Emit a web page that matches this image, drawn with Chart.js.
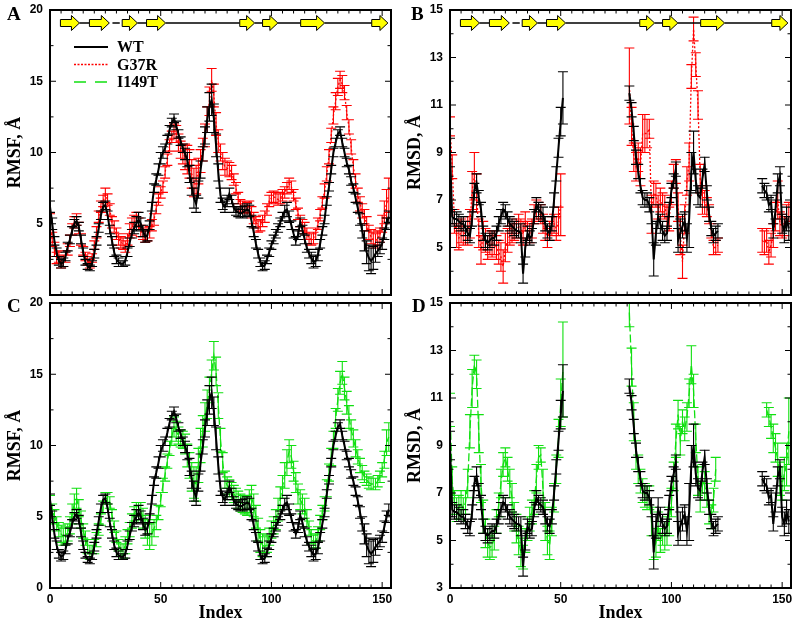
<!DOCTYPE html>
<html>
<head>
<meta charset="utf-8">
<script src="https://cdn.jsdelivr.net/npm/chart.js@4.4.1/dist/chart.umd.min.js"></script>
<style>
  body { margin: 0; background: #fff; }
  #page { position: relative; width: 800px; height: 625px; overflow: hidden; background: #fff; }
  canvas { position: absolute; }
  .tag { position: absolute; font: bold 19px "Liberation Serif", "Times New Roman", serif; line-height: 24px; color: #000; }
</style>
</head>
<body>
<div id="page">
  <canvas id="panelA" width="400" height="300" style="left:0;top:0"></canvas>
  <canvas id="panelB" width="400" height="300" style="left:400px;top:0"></canvas>
  <canvas id="panelC" width="400" height="335" style="left:0;top:290px"></canvas>
  <canvas id="panelD" width="400" height="335" style="left:400px;top:290px"></canvas>
  <div class="tag" style="left:7px;top:2px">A</div>
  <div class="tag" style="left:411px;top:2px">B</div>
  <div class="tag" style="left:7px;top:294px">C</div>
  <div class="tag" style="left:412px;top:294px">D</div>
</div>
<script>
// residue index 0..153
const residueIndex = Array.from({ length: 154 }, (_, i) => i);

const seriesLabels = ["WT", "G37R", "I149T"];
const seriesColors = ["#000000", "#ff0000", "#10e010"];

// secondary structure (beta strands) and the loop line drawn between them
const strands = [[4.7, 13.3], [17.8, 26.8], [32.6, 39.5], [43.6, 52.2], [85.7, 92.4], [96.0, 102.9], [113.2, 124.0], [145.3, 152.6]];
const loops = [[13.3, 17.8], [28.2, 31.5], [39.5, 43.6], [52.2, 85.7], [92.4, 96.0], [102.9, 113.2], [124.0, 145.3]];

const xTicks = [0, 50, 100, 150];
const rmsfTicks = [0, 5, 10, 15, 20];
const rmsdTicks = [3, 5, 7, 9, 11, 13, 15];

// ---- RMSF (panels A, C) ----
const wtRmsf = [
  6.2, 5.0, 3.8, 3.0, 2.4, 2.2, 2.3, 2.7, 3.4, 3.9,
  4.5, 5.0, 5.2, 4.8, 3.9, 3.0, 2.3, 2.0, 1.9, 2.2,
  2.9, 3.8, 4.7, 5.6, 6.2, 6.3, 5.6, 4.6, 3.8, 3.0,
  2.5, 2.3, 2.2, 2.2, 2.4, 3.0, 3.7, 4.3, 4.7, 5.0,
  5.3, 5.0, 4.5, 4.1, 4.2, 4.9, 6.2, 7.5, 8.1, 8.8,
  9.6, 10.0, 10.3, 10.9, 11.6, 12.1, 12.4, 11.9, 11.3, 10.8,
  10.3, 9.9, 9.5, 8.5, 7.6, 6.8, 6.4, 7.4, 8.8, 9.9,
  11.2, 12.3, 13.2, 13.7, 12.4, 10.5, 8.6, 7.0, 6.4, 6.2,
  6.6, 7.1, 6.7, 6.1, 5.9, 5.8, 5.7, 5.8, 5.9, 6.0,
  5.9, 5.2, 4.4, 3.6, 2.9, 2.3, 2.0, 2.1, 2.5, 3.0,
  3.5, 3.9, 4.3, 4.7, 5.1, 5.5, 5.9, 6.0, 5.5, 4.9,
  4.3, 3.8, 4.2, 5.1, 4.6, 3.9, 3.3, 2.9, 2.6, 2.3,
  2.4, 2.8, 3.6, 4.5, 5.3, 6.6, 7.6, 8.8, 10.0, 10.7,
  11.3, 11.5, 10.7, 10.0, 9.3, 8.8, 8.0, 7.5, 6.8, 6.1,
  5.3, 4.5, 3.8, 3.0, 2.6, 2.4, 2.6, 2.9, 3.1, 3.3,
  3.6, 4.3, 5.0, 5.5
];
const wtRmsfErr = [
  0.4, 0.4, 0.3, 0.3, 0.3, 0.3, 0.3, 0.3, 0.3, 0.3,
  0.3, 0.3, 0.3, 0.3, 0.3, 0.3, 0.2, 0.2, 0.2, 0.2,
  0.3, 0.3, 0.3, 0.3, 0.3, 0.3, 0.3, 0.3, 0.3, 0.3,
  0.3, 0.3, 0.2, 0.2, 0.3, 0.3, 0.3, 0.3, 0.4, 0.5,
  0.5, 0.4, 0.4, 0.4, 0.4, 0.3, 0.3, 0.3, 0.4, 0.4,
  0.4, 0.4, 0.3, 0.3, 0.3, 0.3, 0.3, 0.3, 0.3, 0.3,
  0.3, 0.4, 0.5, 0.6, 0.6, 0.7, 0.6, 0.6, 0.6, 0.5,
  0.6, 0.9, 1.0, 1.1, 1.0, 0.8, 0.6, 0.5, 0.4, 0.4,
  0.4, 0.4, 0.3, 0.3, 0.3, 0.3, 0.3, 0.4, 0.4, 0.4,
  0.4, 0.4, 0.3, 0.3, 0.3, 0.3, 0.3, 0.3, 0.3, 0.3,
  0.3, 0.3, 0.3, 0.3, 0.3, 0.3, 0.4, 0.5, 0.4, 0.3,
  0.3, 0.3, 0.3, 0.3, 0.3, 0.3, 0.3, 0.3, 0.4, 0.4,
  0.4, 0.4, 0.3, 0.3, 0.3, 0.3, 0.3, 0.3, 0.3, 0.3,
  0.3, 0.3, 0.3, 0.3, 0.3, 0.3, 0.3, 0.3, 0.3, 0.3,
  0.4, 0.5, 0.7, 0.8, 0.9, 0.9, 0.8, 0.6, 0.4, 0.4,
  0.4, 0.4, 0.4, 0.4
];
const g37rRmsf = [
  4.9, 3.9, 3.2, 2.6, 2.7, 2.3, 2.4, 2.7, 3.2, 3.8,
  4.6, 5.1, 5.3, 4.7, 3.9, 3.1, 2.7, 2.4, 2.2, 2.6,
  3.5, 4.4, 5.5, 6.2, 6.6, 7.0, 6.7, 6.0, 5.1, 4.8,
  4.3, 3.9, 3.7, 3.6, 3.4, 3.9, 4.5, 4.8, 5.1, 5.3,
  5.0, 4.5, 4.3, 4.1, 4.2, 4.4, 4.9, 5.3, 6.1, 6.7,
  7.2, 7.6, 8.6, 9.5, 10.5, 11.1, 11.5, 11.3, 10.7, 10.2,
  9.9, 9.7, 9.5, 9.2, 8.5, 7.9, 8.1, 8.7, 9.4, 10.2,
  11.2, 12.3, 13.6, 15.1, 14.0, 12.0, 10.8, 10.0, 9.4, 9.0,
  8.9, 8.8, 8.6, 8.1, 7.5, 6.8, 6.3, 6.2, 6.2, 6.1,
  6.2, 5.8, 5.4, 5.1, 4.8, 4.9, 5.2, 5.5, 6.0, 6.6,
  6.8, 6.9, 6.8, 6.7, 6.8, 7.0, 7.2, 7.5, 7.8, 7.6,
  7.0, 6.4, 5.7, 5.2, 4.9, 4.7, 4.3, 4.0, 3.9, 4.0,
  4.3, 5.0, 5.6, 6.5, 7.3, 8.5, 9.7, 11.2, 12.6, 13.6,
  14.6, 15.1, 14.8, 14.2, 12.8, 11.8, 10.4, 9.0, 8.0, 7.0,
  6.4, 5.9, 5.5, 5.0, 4.4, 4.1, 3.9, 3.8, 4.0, 4.2,
  5.0, 5.8, 6.4, 7.0
];
const g37rRmsfErr = [
  0.8, 0.5, 0.5, 0.4, 0.4, 0.4, 0.4, 0.4, 0.4, 0.4,
  0.4, 0.4, 0.4, 0.4, 0.4, 0.3, 0.3, 0.3, 0.3, 0.3,
  0.3, 0.4, 0.4, 0.4, 0.4, 0.5, 0.4, 0.4, 0.4, 0.4,
  0.4, 0.4, 0.4, 0.4, 0.4, 0.4, 0.5, 0.6, 0.5, 0.5,
  0.4, 0.4, 0.4, 0.4, 0.4, 0.4, 0.4, 0.4, 0.4, 0.4,
  0.4, 0.4, 0.4, 0.4, 0.4, 0.4, 0.5, 0.6, 0.6, 0.6,
  0.7, 0.9, 1.0, 1.0, 1.0, 1.0, 1.0, 0.9, 0.8, 0.8,
  0.8, 0.9, 1.0, 0.8, 0.8, 0.8, 0.8, 0.6, 0.6, 0.6,
  0.5, 0.5, 0.5, 0.4, 0.4, 0.4, 0.4, 0.4, 0.4, 0.4,
  0.4, 0.4, 0.4, 0.4, 0.4, 0.4, 0.4, 0.4, 0.4, 0.4,
  0.4, 0.4, 0.4, 0.4, 0.4, 0.4, 0.4, 0.4, 0.4, 0.4,
  0.4, 0.4, 0.4, 0.4, 0.4, 0.4, 0.4, 0.4, 0.4, 0.4,
  0.4, 0.4, 0.4, 0.4, 0.5, 0.5, 0.5, 0.5, 0.6, 0.6,
  0.6, 0.6, 0.6, 0.5, 0.5, 0.5, 0.5, 0.5, 0.5, 0.5,
  0.5, 0.5, 0.5, 0.5, 0.5, 0.5, 0.5, 0.5, 0.5, 0.5,
  0.6, 0.8, 1.0, 1.2
];
const i149tRmsf = [
  6.0, 5.4, 5.0, 4.5, 4.1, 3.8, 3.6, 3.7, 3.9, 4.4,
  5.2, 5.9, 6.3, 5.6, 4.8, 4.0, 3.5, 2.9, 2.5, 2.5,
  2.9, 3.4, 4.1, 4.8, 5.7, 6.3, 6.3, 6.0, 5.1, 4.3,
  3.6, 3.0, 2.7, 2.6, 3.0, 3.6, 4.1, 4.7, 5.2, 5.5,
  5.5, 5.4, 4.9, 4.3, 3.9, 3.6, 3.8, 4.2, 4.6, 5.3,
  6.2, 7.2, 8.0, 8.9, 9.8, 10.6, 11.3, 11.0, 10.7, 10.5,
  10.4, 10.1, 9.3, 8.6, 7.8, 7.4, 7.3, 8.6, 10.0, 11.0,
  12.0, 12.9, 13.9, 15.1, 16.3, 15.2, 12.8, 10.4, 8.8, 7.6,
  7.2, 7.0, 6.8, 6.6, 6.4, 6.2, 6.0, 5.9, 5.8, 5.8,
  6.1, 6.4, 5.8, 5.0, 4.1, 3.3, 3.0, 2.9, 3.1, 3.6,
  4.1, 4.4, 4.8, 5.5, 6.3, 7.1, 7.9, 8.8, 9.6, 9.2,
  8.2, 7.4, 6.6, 6.2, 5.9, 5.6, 4.9, 4.2, 3.6, 3.2,
  3.3, 3.8, 4.6, 5.3, 5.9, 7.0, 8.1, 9.2, 10.4, 11.9,
  13.2, 14.4, 15.1, 14.0, 13.0, 12.0, 11.1, 10.5, 9.8, 9.2,
  8.6, 8.1, 7.8, 7.6, 7.4, 7.3, 7.3, 7.3, 7.5, 7.8,
  8.3, 9.0, 10.2, 10.6
];
const i149tRmsfErr = [
  0.5, 0.5, 0.5, 0.5, 0.5, 0.6, 0.6, 0.6, 0.6, 0.6,
  0.7, 0.7, 0.7, 0.6, 0.6, 0.5, 0.5, 0.5, 0.5, 0.5,
  0.5, 0.5, 0.4, 0.4, 0.4, 0.4, 0.4, 0.4, 0.4, 0.4,
  0.4, 0.4, 0.4, 0.5, 0.6, 0.5, 0.5, 0.5, 0.5, 0.5,
  0.5, 0.6, 0.7, 0.8, 0.9, 0.9, 0.8, 0.6, 0.5, 0.5,
  0.5, 0.5, 0.5, 0.5, 0.5, 0.6, 0.7, 0.7, 0.6, 0.6,
  0.6, 0.7, 0.8, 0.9, 1.0, 1.1, 1.2, 1.2, 1.2, 1.1,
  1.0, 1.0, 0.9, 0.9, 1.0, 1.0, 0.9, 0.8, 0.7, 0.6,
  0.6, 0.6, 0.6, 0.6, 0.6, 0.6, 0.6, 0.6, 0.6, 0.7,
  0.8, 0.8, 0.8, 0.8, 0.8, 0.8, 0.8, 0.7, 0.6, 0.6,
  0.6, 0.6, 0.7, 0.8, 0.8, 0.8, 0.9, 0.9, 0.8, 0.8,
  0.7, 0.7, 0.7, 0.7, 0.7, 0.7, 0.6, 0.5, 0.5, 0.5,
  0.5, 0.5, 0.5, 0.5, 0.5, 0.6, 0.6, 0.6, 0.6, 0.7,
  0.8, 0.8, 0.8, 0.8, 0.8, 0.8, 0.7, 0.6, 0.6, 0.5,
  0.5, 0.5, 0.4, 0.4, 0.4, 0.4, 0.4, 0.4, 0.4, 0.4,
  0.5, 0.6, 0.9, 1.0
];

// ---- RMSD (panels B, D); null = not computed ----
const wtRmsd = [
  9.0, 6.3, 6.2, 6.2, 6.1, 6.0, 6.0, 5.8, 5.6, 5.5,
  6.2, 7.4, 7.7, 7.1, 6.6, 5.6, 5.3, 5.2, 5.3, 5.4,
  5.4, 5.6, 6.0, 6.3, 6.6, 6.5, 6.2, 6.0, 5.9, 5.8,
  5.7, 5.7, 5.6, 3.9, 5.0, 5.6, 5.4, 5.5, 6.3, 6.8,
  6.6, 6.5, 6.4, 6.0, 5.7, 5.6, 6.0, 7.0, 8.1, 9.2,
  10.3, 11.3, null, null, null, null, null, null, null, null,
  null, null, null, null, null, null, null, null, null, null,
  null, null, null, null, null, null, null, null, null, null,
  null, 11.5, 10.8, 9.8, 8.8, 8.2, 7.6, 7.1, 7.0, 7.0,
  6.8, 6.4, 4.5, 5.6, 6.3, 6.0, 5.7, 5.5, 5.6, 6.6,
  7.4, 7.8, 8.3, 5.3, 5.6, 5.9, 6.1, 5.4, 6.2, 8.2,
  9.0, 7.8, 7.2, 7.1, 7.9, 8.5, 7.3, 6.4, 5.8, 5.5,
  5.6, 5.7, null, null, null, null, null, null, null, null,
  null, null, null, null, null, null, null, null, null, null,
  null, 7.6, 7.4, 7.3, 6.8, 6.9, 5.7, 6.6, 7.7, 8.0,
  6.0, 5.7, 6.2, 5.8
];
const wtRmsdErr = [
  0.6, 0.3, 0.3, 0.3, 0.3, 0.3, 0.3, 0.3, 0.3, 0.3,
  0.3, 0.3, 0.4, 0.3, 0.3, 0.3, 0.3, 0.3, 0.3, 0.3,
  0.3, 0.3, 0.3, 0.3, 0.3, 0.3, 0.3, 0.3, 0.3, 0.3,
  0.3, 0.3, 0.4, 0.4, 0.4, 0.3, 0.3, 0.3, 0.3, 0.3,
  0.3, 0.3, 0.3, 0.3, 0.3, 0.3, 0.3, 0.3, 0.3, 0.4,
  0.6, 1.1, null, null, null, null, null, null, null, null,
  null, null, null, null, null, null, null, null, null, null,
  null, null, null, null, null, null, null, null, null, null,
  null, 0.3, 0.3, 0.3, 0.3, 0.3, 0.3, 0.3, 0.3, 0.3,
  0.3, 0.4, 0.7, 0.5, 0.5, 0.4, 0.4, 0.3, 0.3, 0.3,
  0.3, 0.3, 0.3, 0.5, 0.6, 0.5, 0.4, 0.6, 1.2, 0.8,
  0.9, 0.5, 0.4, 0.4, 0.4, 0.3, 0.3, 0.3, 0.3, 0.3,
  0.3, 0.3, null, null, null, null, null, null, null, null,
  null, null, null, null, null, null, null, null, null, null,
  null, 0.3, 0.3, 0.3, 0.3, 0.3, 0.3, 0.4, 0.4, 0.4,
  0.4, 0.5, 0.5, 0.5
];
const g37rRmsd = [
  10.1, 8.4, 6.1, 5.5, 5.4, 5.7, 5.6, 5.6, 5.7, 6.0,
  7.4, 8.0, 7.3, 5.6, 4.9, 5.5, 5.3, 5.0, 5.2, 5.1,
  5.2, 5.0, 4.8, 4.6, 4.2, 5.0, 5.3, 5.5, 5.6, 5.7,
  5.8, 6.0, 5.8, 5.6, 6.1, 5.7, 5.6, 5.8, 6.4, 6.6,
  6.5, 6.4, 6.0, 5.7, 5.4, 5.7, 5.9, 6.0, 5.8, 6.1,
  6.8, null, null, null, null, null, null, null, null, null,
  null, null, null, null, null, null, null, null, null, null,
  null, null, null, null, null, null, null, null, null, null,
  null, 11.8, 10.1, 8.8, 8.4, 8.8, 8.4, 9.8, 9.8, 9.8,
  10.0, 6.4, 7.3, 7.2, 6.7, 7.0, 6.8, 6.7, 6.3, 6.2,
  7.3, 8.0, 8.2, 6.7, 5.5, 4.4, 6.2, 7.8, 8.6, 12.2,
  14.2, 12.7, 11.0, 7.9, 7.0, 6.9, 6.7, 6.4, 5.7, 5.0,
  5.0, 5.1, null, null, null, null, null, null, null, null,
  null, null, null, null, null, null, null, null, null, null,
  null, 5.3, 5.2, 5.3, 4.8, 5.1, 5.5, 6.3, 7.0, 6.0,
  5.9, 5.9, 6.4, 6.5
];
const g37rRmsdErr = [
  0.4, 0.5, 0.5, 0.5, 0.5, 0.5, 0.5, 0.5, 0.6, 0.6,
  0.8, 1.0, 0.8, 0.6, 0.6, 0.6, 0.5, 0.5, 0.5, 0.5,
  0.5, 0.5, 0.5, 0.6, 0.7, 0.6, 0.5, 0.4, 0.4, 0.4,
  0.4, 0.4, 0.4, 0.5, 0.4, 0.4, 0.4, 0.4, 0.4, 0.4,
  0.4, 0.4, 0.4, 0.4, 0.4, 0.4, 0.4, 0.4, 0.5, 0.6,
  1.3, null, null, null, null, null, null, null, null, null,
  null, null, null, null, null, null, null, null, null, null,
  null, null, null, null, null, null, null, null, null, null,
  null, 1.6, 0.8, 0.6, 0.6, 0.6, 0.8, 0.8, 0.8, 0.6,
  0.4, 0.8, 0.5, 0.5, 0.5, 0.5, 0.5, 0.5, 0.5, 0.5,
  0.5, 0.5, 0.5, 0.6, 0.8, 0.7, 0.6, 0.6, 0.8, 0.5,
  0.5, 0.5, 0.6, 0.6, 0.6, 0.5, 0.4, 0.4, 0.3, 0.3,
  0.3, 0.3, null, null, null, null, null, null, null, null,
  null, null, null, null, null, null, null, null, null, null,
  null, 0.5, 0.5, 0.5, 0.5, 0.5, 0.5, 0.6, 0.8, 0.5,
  0.5, 0.4, 0.4, 0.4
];
const i149tRmsd = [
  10.5, 7.5, 6.6, 6.3, 6.4, 6.6, 6.3, 6.6, 7.4, 9.6,
  11.4, 12.4, 12.0, 9.5, 7.4, 6.0, 5.3, 4.9, 4.7, 4.8,
  5.1, 5.8, 6.5, 7.4, 8.2, 8.5, 8.0, 7.4, 6.8, 6.0,
  5.5, 5.0, 4.5, 4.3, 5.0, 5.5, 5.9, 6.2, 6.6, 7.6,
  8.5, 8.6, 7.2, 5.8, 5.0, 4.8, 5.8, 6.8, 8.0, 9.3,
  10.8, 12.2, null, null, null, null, null, null, null, null,
  null, null, null, null, null, null, null, null, null, null,
  null, null, null, null, null, null, null, null, null, null,
  null, 14.6, 12.3, 10.0, 8.6, 8.0, 7.5, 7.1, 6.9, 6.8,
  6.8, 5.8, 4.7, 4.9, 5.6, 5.0, 5.3, 5.2, 5.4, 5.8,
  6.6, 7.7, 9.2, 10.3, 9.2, 10.0, 9.7, 10.2, 11.2, 12.4,
  11.3, 9.3, 7.5, 6.8, 7.6, 7.3, 6.9, 6.2, 6.0, 6.7,
  8.0, null, null, null, null, null, null, null, null, null,
  null, null, null, null, null, null, null, null, null, null,
  null, null, null, 10.5, 10.2, 9.8, 9.3, 8.9, 8.4, 7.6,
  7.4, 7.8, 8.2, 9.6
];
const i149tRmsdErr = [
  0.7, 0.6, 0.5, 0.5, 0.5, 0.5, 0.5, 0.5, 0.6, 0.7,
  0.8, 0.4, 0.6, 0.8, 0.8, 0.7, 0.6, 0.6, 0.5, 0.5,
  0.5, 0.5, 0.5, 0.6, 0.5, 0.4, 0.5, 0.6, 0.6, 0.6,
  0.6, 0.6, 0.6, 0.5, 0.5, 0.5, 0.5, 0.5, 0.5, 0.6,
  0.5, 0.3, 0.8, 0.8, 0.6, 0.6, 0.6, 0.6, 0.6, 0.8,
  1.0, 2.0, null, null, null, null, null, null, null, null,
  null, null, null, null, null, null, null, null, null, null,
  null, null, null, null, null, null, null, null, null, null,
  null, 0.6, 0.8, 0.8, 0.6, 0.6, 0.5, 0.5, 0.5, 0.5,
  0.5, 0.6, 0.5, 0.6, 0.6, 0.5, 0.5, 0.6, 0.6, 0.6,
  0.6, 0.6, 0.7, 0.6, 0.6, 0.5, 0.5, 0.6, 0.6, 0.8,
  0.7, 0.6, 0.6, 0.6, 0.6, 0.6, 0.5, 0.5, 0.5, 0.5,
  0.5, null, null, null, null, null, null, null, null, null,
  null, null, null, null, null, null, null, null, null, null,
  null, null, null, 0.3, 0.4, 0.5, 0.6, 0.6, 0.7, 0.7,
  0.7, 0.7, 0.9, 1.4
];

const tickFont = { family: '"Liberation Sans", Arial, sans-serif', size: 12, weight: "bold" };
const titleFont = { family: '"Liberation Serif", "Times New Roman", serif', size: 18, weight: "bold" };

// vertical error bars with caps, drawn right after each line
const errorBars = {
  id: "errorBars",
  afterDatasetDraw(chart, args) {
    const ds = chart.data.datasets[args.index];
    if (!ds.errors) return;
    const { ctx, chartArea: a, scales: { x, y } } = chart;
    ctx.save();
    ctx.beginPath();
    ctx.rect(a.left, a.top, a.width, a.height);
    ctx.clip();
    ctx.strokeStyle = ds.borderColor;
    ctx.lineWidth = 1.1;
    ctx.beginPath();
    ds.data.forEach((p, i) => {
      const e = ds.errors[i];
      if (p.y == null || e == null) return;
      const px = x.getPixelForValue(p.x);
      const lo = y.getPixelForValue(p.y - e);
      const hi = y.getPixelForValue(p.y + e);
      ctx.moveTo(px, lo); ctx.lineTo(px, hi);
      ctx.moveTo(px - 5, lo); ctx.lineTo(px + 5, lo);
      ctx.moveTo(px - 5, hi); ctx.lineTo(px + 5, hi);
    });
    ctx.stroke();
    ctx.restore();
  }
};

// strands row at the top of A and B
const strandRow = {
  id: "strandRow",
  afterDatasetsDraw(chart, args, opts) {
    if (!opts.show) return;
    const { ctx, chartArea: a, scales: { x } } = chart;
    const yc = a.top + 13;
    ctx.save();
    ctx.strokeStyle = "#000";
    ctx.lineWidth = 1.3;
    ctx.beginPath();
    loops.forEach(([s, e]) => {
      ctx.moveTo(x.getPixelForValue(s), yc);
      ctx.lineTo(x.getPixelForValue(e), yc);
    });
    ctx.stroke();
    ctx.lineWidth = 1;
    ctx.fillStyle = "#ffff00";
    strands.forEach(([s, e]) => {
      const x0 = x.getPixelForValue(s), x1 = x.getPixelForValue(e);
      const xh = x1 - 8;
      ctx.beginPath();
      ctx.moveTo(x0, yc - 3.5);
      ctx.lineTo(xh, yc - 3.5);
      ctx.lineTo(xh, yc - 7.5);
      ctx.lineTo(x1, yc);
      ctx.lineTo(xh, yc + 7.5);
      ctx.lineTo(xh, yc + 3.5);
      ctx.lineTo(x0, yc + 3.5);
      ctx.closePath();
      ctx.fill();
      ctx.stroke();
    });
    ctx.restore();
  }
};

// legend inside panel A
const legendBox = {
  id: "legendBox",
  afterDraw(chart, args, opts) {
    if (!opts.show) return;
    const { ctx, chartArea: a } = chart;
    const dashes = [[], [2, 1.5], [12, 9]];
    const widths = [2, 1.5, 1.5];
    seriesLabels.forEach((lab, k) => {
      const yy = a.top + 37 + k * 17.5;
      ctx.save();
      ctx.strokeStyle = seriesColors[k];
      ctx.lineWidth = widths[k];
      ctx.setLineDash(dashes[k]);
      ctx.beginPath();
      ctx.moveTo(a.left + 24, yy);
      ctx.lineTo(a.left + 58, yy);
      ctx.stroke();
      ctx.setLineDash([]);
      ctx.fillStyle = "#000";
      ctx.font = 'bold 16px "Liberation Serif", "Times New Roman", serif';
      ctx.textBaseline = "middle";
      ctx.fillText(lab, a.left + 67, yy + 1);
      ctx.restore();
    });
  }
};

// box and inward tick marks on all four sides
const frame = {
  id: "frame",
  afterDraw(chart, args, opts) {
    const { ctx, chartArea: a, scales: { x, y } } = chart;
    ctx.save();
    ctx.strokeStyle = "#000";
    ctx.lineWidth = 1;
    ctx.beginPath();
    for (let v = 0; v <= 150; v += 5) {
      const px = x.getPixelForValue(v);
      const len = v % 50 === 0 ? 6 : 3.5;
      ctx.moveTo(px, a.bottom); ctx.lineTo(px, a.bottom - len);
      ctx.moveTo(px, a.top); ctx.lineTo(px, a.top + len);
    }
    for (let v = y.min; v <= y.max + 1e-6; v += opts.minor) {
      const py = y.getPixelForValue(v);
      const major = Math.abs(((v - y.min) / opts.major) - Math.round((v - y.min) / opts.major)) < 1e-6;
      const len = major ? 6 : 3.5;
      ctx.moveTo(a.left, py); ctx.lineTo(a.left + len, py);
      ctx.moveTo(a.right, py); ctx.lineTo(a.right - len, py);
    }
    ctx.stroke();
    ctx.lineWidth = 2;
    ctx.strokeRect(a.left, a.top, a.width, a.height);
    ctx.restore();
  }
};

function makePanel(id, p) {
  return new Chart(document.getElementById(id), {
    type: "line",
    data: {
      datasets: p.series.map(s => ({
        label: seriesLabels[s.k],
        data: s.values.map((v, i) => ({ x: residueIndex[i], y: v })),
        errors: s.errors,
        borderColor: seriesColors[s.k],
        borderWidth: s.k === 0 ? 2 : 1.3,
        borderDash: s.k === 1 ? [2, 2] : s.k === 2 ? [8, 3] : [],
        pointRadius: 0,
        tension: 0,
        fill: false,
        spanGaps: false
      }))
    },
    options: {
      responsive: false,
      animation: false,
      events: [],
      layout: { padding: p.padding },
      plugins: {
        legend: { display: false },
        tooltip: { enabled: false },
        strandRow: { show: p.strands },
        legendBox: { show: p.legend },
        frame: { minor: p.yMinor, major: p.yMajor }
      },
      scales: {
        x: {
          type: "linear",
          min: 0,
          max: 154,
          grid: { display: false, drawTicks: false },
          border: { display: false },
          afterBuildTicks: s => { s.ticks = xTicks.map(v => ({ value: v })); },
          afterFit: s => { s.height = p.xHeight; s.paddingLeft = 0; s.paddingRight = 0; },
          ticks: { display: p.showX, padding: 4, color: "#000", font: tickFont, maxRotation: 0 },
          title: { display: p.showX, text: "Index", color: "#000", font: titleFont, padding: { top: 0, bottom: 1 } }
        },
        y: {
          type: "linear",
          min: p.yTicks[0],
          max: p.yTicks[p.yTicks.length - 1],
          grid: { display: false, drawTicks: false },
          border: { display: false },
          afterBuildTicks: s => { s.ticks = p.yTicks.map(v => ({ value: v })); },
          afterFit: s => { s.width = 50; s.paddingTop = 0; s.paddingBottom = 0; },
          ticks: {
            padding: 7,
            color: "#000",
            font: tickFont,
            callback: v => (p.hideFirstY && v === p.yTicks[0] ? "" : v)
          },
          title: { display: true, text: p.yTitle, color: "#000", font: titleFont, padding: { top: 5, bottom: 0 } }
        }
      }
    },
    plugins: [errorBars, strandRow, legendBox, frame]
  });
}

makePanel("panelA", {
  series: [
    { k: 0, values: wtRmsf, errors: wtRmsfErr },
    { k: 1, values: g37rRmsf, errors: g37rRmsfErr }
  ],
  padding: { left: 0, top: 10, right: 9, bottom: 5 },
  xHeight: 0, showX: false, strands: true, legend: true,
  yTicks: rmsfTicks, yMajor: 5, yMinor: 2.5, hideFirstY: true, yTitle: "RMSF, Å"
});
makePanel("panelB", {
  series: [
    { k: 0, values: wtRmsd, errors: wtRmsdErr },
    { k: 1, values: g37rRmsd, errors: g37rRmsdErr }
  ],
  padding: { left: 0, top: 10, right: 9, bottom: 5 },
  xHeight: 0, showX: false, strands: true, legend: false,
  yTicks: rmsdTicks, yMajor: 2, yMinor: 1, hideFirstY: true, yTitle: "RMSD, Å"
});
makePanel("panelC", {
  series: [
    { k: 0, values: wtRmsf, errors: wtRmsfErr },
    { k: 2, values: i149tRmsf, errors: i149tRmsfErr }
  ],
  padding: { left: 0, top: 13, right: 9, bottom: 0 },
  xHeight: 37, showX: true, strands: false, legend: false,
  yTicks: rmsfTicks, yMajor: 5, yMinor: 2.5, hideFirstY: false, yTitle: "RMSF, Å"
});
makePanel("panelD", {
  series: [
    { k: 0, values: wtRmsd, errors: wtRmsdErr },
    { k: 2, values: i149tRmsd, errors: i149tRmsdErr }
  ],
  padding: { left: 0, top: 13, right: 9, bottom: 0 },
  xHeight: 37, showX: true, strands: false, legend: false,
  yTicks: rmsdTicks, yMajor: 2, yMinor: 1, hideFirstY: false, yTitle: "RMSD, Å"
});
</script>
</body>
</html>
